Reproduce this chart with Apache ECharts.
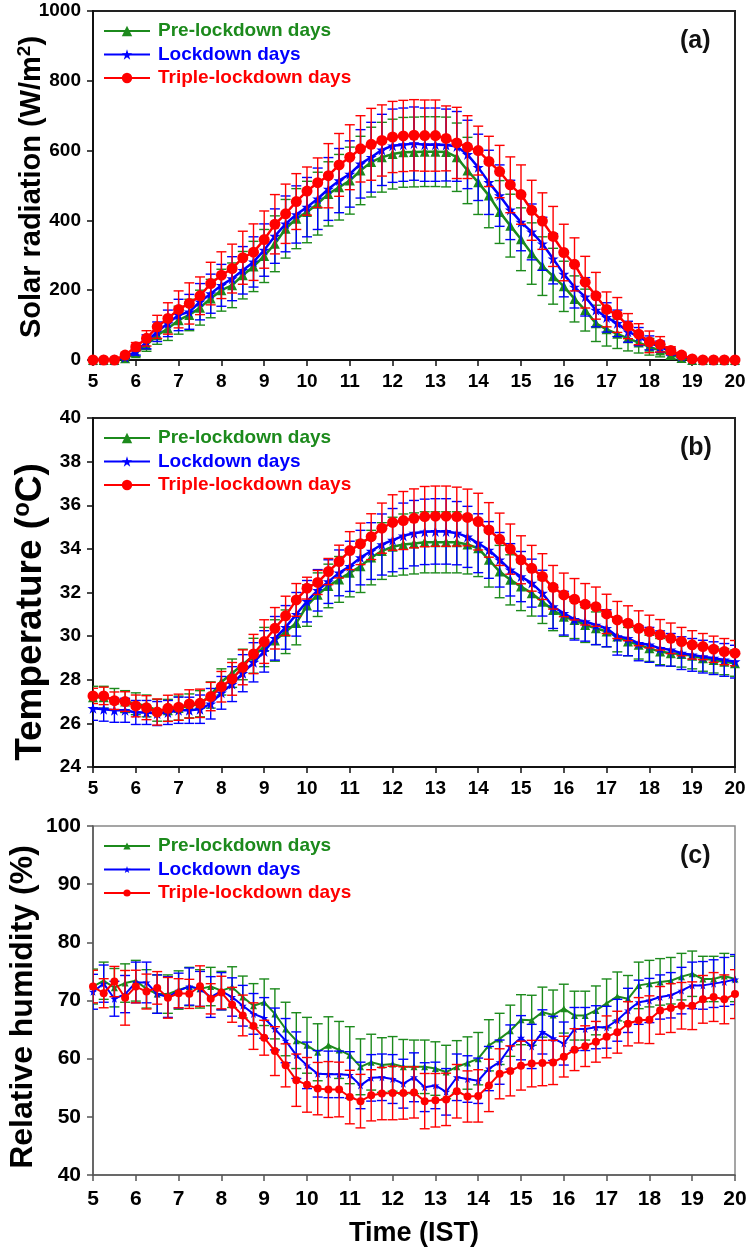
<!DOCTYPE html>
<html>
<head>
<meta charset="utf-8">
<script src="https://cdn.jsdelivr.net/npm/echarts@6.0.0/dist/echarts.min.js"></script>
<style>
  html, body { margin: 0; padding: 0; background: #fff; }
  #chart { width: 747px; height: 1252px; }
</style>
</head>
<body>
<div id="chart"></div>
<script>
// time of day (IST), 15-minute steps
const times = [
  5, 5.25, 5.5, 5.75, 6, 6.25, 6.5, 6.75, 7, 7.25, 7.5, 7.75,
  8, 8.25, 8.5, 8.75, 9, 9.25, 9.5, 9.75, 10, 10.25, 10.5, 10.75,
  11, 11.25, 11.5, 11.75, 12, 12.25, 12.5, 12.75, 13, 13.25, 13.5, 13.75,
  14, 14.25, 14.5, 14.75, 15, 15.25, 15.5, 15.75, 16, 16.25, 16.5, 16.75,
  17, 17.25, 17.5, 17.75, 18, 18.25, 18.5, 18.75, 19, 19.25, 19.5, 19.75, 20
];
const xTicks = [5, 6, 7, 8, 9, 10, 11, 12, 13, 14, 15, 16, 17, 18, 19, 20];
const names = ['Pre-lockdown days', 'Lockdown days', 'Triple-lockdown days'];

// (a) solar radiation, W/m2
const radPre = [0,0,0,5, 19,43,71,90, 114,129,150,176, 200,214,243,268, 298,333,376,405,
  424,448,476,495, 514,543,567,581, 590,595,596,597, 597,596,581,543, 509,471,424,385,
  346,305,269,240, 211,175,143,105, 88,75,62,50, 38,27,15,6, 0,0,0,0, 0];
const radPreSd = [0,0,0,3, 9,18,26,34, 40,45,50,55, 60,64,68,72, 76,80,84,86,
  88,90,92,94, 96,98,100,100, 100,100,100,100, 100,100,98,95, 92,92,90,90,
  90,88,84,80, 72,66,60,52, 48,42,36,30, 24,18,12,5, 0,0,0,0, 0];
const radLock = [0,0,0,8, 24,52,81,105, 129,138,167,190, 214,233,257,281, 315,355,390,417,
  438,462,490,514, 533,562,581,602, 614,617,620,617, 617,616,612,589, 552,509,471,430,
  395,367,333,290, 246,209,181,143, 122,105,81,67, 49,38,24,10, 3,0,0,0, 0];
const radLockSd = [0,0,0,4, 10,20,28,38, 45,50,52,56, 60,63,68,72, 75,78,80,82,
  85,88,90,92, 95,98,100,102, 105,105,105,105, 105,103,100,98, 95,92,88,85,
  82,80,76,72, 65,60,55,48, 42,38,30,26, 20,16,10,5, 2,0,0,0, 0];
const radTriple = [0,0,0,14, 38,62,95,119, 145,162,184,219, 243,262,293,309, 345,389,419,454,
  484,508,528,559, 581,605,618,629, 639,642,644,643, 643,635,622,610, 600,569,540,502,
  474,429,398,354, 308,274,223,184, 145,129,97,74, 52,45,27,14, 3,0,0,0, 0];
const radTripleSd = [0,0,0,5, 12,22,33,45, 53,59,54,61, 67,70,76,81, 82,85,85,80,
  69,71,92,90, 93,95,103,102, 102,102,102,102, 102,93,102,90, 70,72,75,80,
  85,86,81,86, 81,76,74,67, 50,50,36,30, 31,22,11,6, 2,0,0,0, 0];

// (b) temperature, deg C
const tempPre = [27.2,27.2,27.1,27.0, 26.9,26.8,26.6,26.6, 26.7,26.8,26.9,27.3,
  27.9,28.3,28.7,29.1, 29.5,29.8,30.2,30.6, 31.4,31.9,32.3,32.6, 32.9,33.2,33.6,33.9,
  34.1,34.2,34.25,34.3, 34.3,34.3,34.3,34.2, 34.03,33.5,32.96,32.58, 32.27,31.97,31.58,31.2,
  30.89,30.74,30.51,30.36, 30.21,29.98,29.75,29.6, 29.44,29.29,29.22,29.18, 29.1,28.99,28.91,28.83, 28.76];
const tempPreSd = [0.5,0.5,0.5,0.5, 0.5,0.5,0.5,0.5, 0.55,0.55,0.6,0.6, 0.6,0.65,0.7,0.8,
  0.9,0.95,1.0,1.0, 0.95,1.0,1.0,1.05, 1.1,1.2,1.25,1.3, 1.35,1.4,1.4,1.4, 1.4,1.4,1.4,1.35,
  1.3,1.25,1.2,1.15, 1.1,1.05,1.0,0.95, 0.9,0.85,0.8,0.75, 0.7,0.7,0.65,0.65,
  0.6,0.6,0.6,0.6, 0.6,0.6,0.6,0.6, 0.6];
const tempLock = [26.69,26.65,26.6,26.6, 26.5,26.5,26.45,26.5, 26.6,26.6,26.65,26.9,
  27.4,27.8,28.3,28.8, 29.3,29.9,30.4,31.0, 31.6,32.1,32.5,32.9, 33.2,33.6,33.9,34.2,
  34.4,34.6,34.72,34.78, 34.8,34.8,34.72,34.55, 34.26,33.95,33.5,33.04, 32.73,32.43,31.97,31.35,
  31.05,30.77,30.67,30.51, 30.36,29.98,29.9,29.67, 29.6,29.44,29.37,29.22, 29.14,29.06,28.99,28.91, 28.83];
const tempLockSd = [0.55,0.55,0.55,0.55, 0.55,0.55,0.55,0.55, 0.6,0.6,0.65,0.7, 0.75,0.8,0.85,0.9,
  0.95,1.0,1.0,1.0, 0.95,0.95,1.0,1.05, 1.15,1.25,1.3,1.4, 1.45,1.5,1.5,1.5, 1.5,1.5,1.45,1.4,
  1.35,1.3,1.25,1.2, 1.15,1.1,1.05,1.0, 1.0,0.95,0.9,0.9, 0.85,0.85,0.8,0.8,
  0.8,0.8,0.75,0.75, 0.75,0.75,0.75,0.75, 0.75];
const tempTriple = [27.26,27.26,27.04,27.0, 26.8,26.72,26.52,26.69, 26.74,26.89,26.92,27.23,
  27.68,28.04,28.57,29.18, 29.75,30.36,30.93,31.66, 32.2,32.46,32.96,33.42, 33.92,34.23,34.56,34.95,
  35.21,35.3,35.4,35.48, 35.5,35.5,35.48,35.44, 35.25,34.87,34.44,33.99, 33.5,33.11,32.73,32.24,
  31.89,31.69,31.46,31.35, 31.02,30.74,30.59,30.36, 30.21,30.06,29.9,29.75, 29.6,29.52,29.4,29.29, 29.22];
const tempTripleSd = [0.35,0.4,0.4,0.45, 0.5,0.55,0.6,0.6, 0.6,0.65,0.65,0.65, 0.7,0.75,0.8,0.9,
  1.0,0.95,0.9,0.75, 0.5,0.55,0.6,0.75, 0.87,0.95,1.05,1.15, 1.27,1.33,1.35,1.38, 1.38,1.38,1.35,1.3,
  1.3,1.25,1.2,1.15, 1.1,1.05,1.05,1.0, 1.0,0.95,0.95,0.9, 0.9,0.85,0.8,0.8,
  0.75,0.7,0.7,0.65, 0.65,0.6,0.6,0.6, 0.58];

// (c) relative humidity, %
const rhPre = [72.4,73.4,72.2,73.0, 73.4,72.0,71.1,71.1, 71.8,72.4,72.0,72.4, 71.7,72.3,70.6,69.1,
  69.7,67.7,65.1,63.1, 62.3,61.1,62.3,61.5, 60.6,58.6,59.4,58.9, 59.1,58.6,58.6,58.6,
  58.3,57.7,58.6,59.25, 60.0,62.3,63.4,64.8, 66.7,66.6,68.0,67.5, 68.6,67.4,67.4,68.3,
  69.5,70.7,70.3,72.6, 72.9,73.2,73.4,74.1, 74.6,73.7,73.7,74.2, 73.7];
const rhPreSd = [3.0,3.2,3.3,3.3, 3.5,3.3,3.3,3.3, 3.3,3.3,3.3,3.3, 3.3,3.5,3.6,3.8,
  4.0,4.3,4.6,4.8, 4.8,4.9,4.9,4.9, 4.9,4.8,4.8,4.7, 4.7,4.7,4.6,4.6, 4.6,4.6,4.5,4.5,
  4.5,4.4,4.4,4.4, 4.3,4.3,4.3,4.3, 4.2,4.2,4.2,4.2, 4.2,4.2,4.0,4.0,
  4.0,4.0,4.0,4.0, 3.9,3.9,3.9,3.9, 3.9];
const rhLock = [71.5,72.9,70.3,71.1, 73.1,73.1,71.1,70.6, 71.7,72.4,72.0,70.6, 71.6,70.6,69.1,67.7,
  67.0,65.1,63.1,60.6, 58.85,57.4,57.3,57.3, 57.2,55.4,56.7,56.8, 56.5,55.7,56.8,55.1,
  55.4,54.3,56.8,56.5, 56.2,58.3,59.4,62.0, 63.6,62.1,64.6,63.5, 62.6,65.1,65.1,65.4,
  65.4,66.6,68.3,69.7, 70.0,70.6,70.9,71.7, 72.6,72.6,72.9,73.2, 73.6];
const rhLockSd = [3.0,3.2,3.0,3.2, 3.5,3.5,3.3,3.5, 3.0,3.2,3.0,3.5, 3.2,3.3,3.5,3.5,
  3.5,3.6,3.8,4.0, 4.0,4.0,4.0,4.0, 4.0,4.0,4.0,4.0, 4.2,4.2,4.2,4.2, 4.0,4.0,4.0,4.0,
  3.9,3.8,3.8,3.8, 3.8,3.8,3.8,3.8, 3.7,3.7,3.7,3.7, 3.6,3.6,3.8,3.8,
  3.8,3.8,3.9,4.0, 4.0,4.1,4.1,4.2, 4.3];
const rhTriple = [72.4,71.25,73.26,70.46, 72.4,71.54,72.17,70.46, 71.25,71.14,72.46,70.29,
  71.37,69.26,67.43,65.6, 63.6,61.3,58.85,56.3, 55.5,54.85,54.7,54.7, 53.4,52.7,53.7,54.0,
  54.1,54.1,54.2,52.7, 52.85,53.0,54.4,53.5, 53.6,55.4,57.4,57.9, 58.8,59.15,59.25,59.35,
  60.35,61.55,62.15,62.9, 63.75,64.55,66.0,66.6, 66.7,68.3,68.7,69.1, 69.1,70.2,70.6,70.2, 71.1];
const rhTripleSd = [2.8,2.5,2.6,4.7, 2.8,3.0,2.8,3.5, 2.5,2.5,3.5,2.6, 2.8,3.0,3.5,4.0,
  3.0,4.2,3.7,4.5, 4.7,4.5,4.8,4.7, 4.6,4.6,4.4,4.5, 4.6,4.5,4.4,4.75, 4.6,4.5,4.6,4.4,
  4.5,4.5,4.3,4.3, 4.2,4.0,3.9,3.8, 3.5,3.6,3.5,3.5, 3.6,3.6,3.8,3.9,
  4.1,4.1,4.2,4.0, 4.1,4.1,4.2,4.2, 4.2];

const GREEN = '#1c8a1c', BLUE = '#0000ff', RED = '#ff0000';
const STAR = 'path://M50,0L61.8,35.1L98.9,35.1L69,57.3L80.3,92.6L50,71L19.7,92.6L31,57.3L1.1,35.1L38.2,35.1Z';
const FONT = "'Liberation Sans', Arial, sans-serif";
const NARROW = "'Liberation Sans Narrow', 'Arial Narrow', 'Liberation Sans', sans-serif";

function pairs(vals) { return times.map((t, i) => [t, vals[i]]); }
function bars(vals, sd) { return times.map((t, i) => [t, vals[i] - sd[i], vals[i] + sd[i]]); }

function errorSeries(idx, vals, sd, color, capW, z) {
  return {
    type: 'custom', xAxisIndex: idx, yAxisIndex: idx, silent: true, clip: true, z: z,
    data: bars(vals, sd), encode: { x: 0, y: [1, 2] },
    renderItem: function (params, api) {
      const top = api.coord([api.value(0), api.value(2)]);
      const bot = api.coord([api.value(0), api.value(1)]);
      const h = capW / 2;
      const style = { stroke: color, lineWidth: 1.4 };
      return { type: 'group', children: [
        { type: 'line', shape: { x1: top[0], y1: top[1], x2: bot[0], y2: bot[1] }, style: style },
        { type: 'line', shape: { x1: top[0] - h, y1: top[1], x2: top[0] + h, y2: top[1] }, style: style },
        { type: 'line', shape: { x1: bot[0] - h, y1: bot[1], x2: bot[0] + h, y2: bot[1] }, style: style }
      ] };
    }
  };
}

function lineSeries(idx, name, vals, color, symbol, size, width, z) {
  return {
    type: 'line', name: name, xAxisIndex: idx, yAxisIndex: idx, z: z,
    data: pairs(vals), symbol: symbol, symbolSize: size, showAllSymbol: true,
    lineStyle: { color: color, width: width }, itemStyle: { color: color },
    emphasis: { disabled: true }
  };
}

// vertical axis titles, drawn as rotated text
function axisTitle(text, cx, cy, size) {
  return {
    type: 'text', x: cx, y: cy, rotation: Math.PI / 2, silent: true,
    style: {
      text: text, fill: '#000', fontFamily: FONT, fontWeight: 'bold', fontSize: size,
      lineHeight: size + 4, align: 'center', verticalAlign: 'middle',
      rich: { sup: { fill: '#000', fontFamily: FONT, fontWeight: 'bold', fontSize: Math.round(size * 0.64),
        lineHeight: size + 4, verticalAlign: 'top', padding: [0, 0, Math.round(size * 0.42), 0] } }
    }
  };
}

const panels = [
  { key: 'a', top: 11, min: 0, max: 1000, step: 200, sets: [[radPre, radPreSd], [radLock, radLockSd], [radTriple, radTripleSd]],
    title: 'Solar radiation (W/m{sup|2})', size: 29, tx: 32, ty: 187, big: [10, 11, 11], lw: 2.5, c: false },
  { key: 'b', top: 418, min: 24, max: 40, step: 2, sets: [[tempPre, tempPreSd], [tempLock, tempLockSd], [tempTriple, tempTripleSd]],
    title: 'Temperature ({sup|o}C)', size: 37, tx: 31, ty: 612, big: [10, 11, 11], lw: 2.5, c: false },
  { key: 'c', top: 826, min: 40, max: 100, step: 10, sets: [[rhPre, rhPreSd], [rhLock, rhLockSd], [rhTriple, rhTripleSd]],
    title: 'Relative humidity (%)', size: 32, tx: 23, ty: 1007, big: [7, 8, 8], lw: 2, c: true }
];
const colors = [GREEN, BLUE, RED];
const symbols = ['triangle', STAR, 'circle'];

const grid = [], xAxis = [], yAxis = [], series = [], legend = [], graphic = [];
panels.forEach(function (p, idx) {
  const axisCol = p.c ? '#555' : '#111';
  const tickFont = p.c ? NARROW : FONT;
  const tickSize = p.c ? 21 : 19;
  grid.push({ left: 93, width: 642, top: p.top, height: 349, show: true, outerBoundsMode: 'none', containLabel: false,
    borderColor: p.c ? '#888' : '#222', borderWidth: p.c ? 1.5 : 2, backgroundColor: 'transparent' });
  xAxis.push({
    type: 'value', gridIndex: idx, min: 5, max: 20, interval: 1,
    splitLine: { show: false },
    axisLine: { lineStyle: { color: axisCol, width: p.c ? 1.5 : 2 } },
    axisTick: { length: 6, lineStyle: { color: axisCol, width: 1.5 } },
    axisLabel: { color: '#000', fontFamily: tickFont, fontWeight: 'bold', fontSize: tickSize, margin: p.c ? 14 : 12,
      formatter: function (v) { return xTicks.indexOf(v) >= 0 ? String(v) : ''; } },
    name: p.c ? 'Time (IST)' : '', nameLocation: 'middle', nameGap: 45,
    nameTextStyle: { color: '#000', fontFamily: NARROW, fontWeight: 'bold', fontSize: 27 }
  });
  yAxis.push({
    type: 'value', gridIndex: idx, min: p.min, max: p.max, interval: p.step,
    splitLine: { show: false },
    axisLine: { show: true, lineStyle: { color: axisCol, width: p.c ? 1.5 : 2 } },
    axisTick: { show: true, length: 6, lineStyle: { color: axisCol, width: 1.5 } },
    axisLabel: { color: '#000', fontFamily: tickFont, fontWeight: 'bold', fontSize: tickSize, margin: 12,
      formatter: function (v) { return String(v); } }
  });
  p.sets.forEach(function (s, k) {
    series.push(errorSeries(idx, s[0], s[1], colors[k], 10, 2 + k * 2));
    series.push(lineSeries(idx, names[k] + '|' + p.key, s[0], colors[k], symbols[k], p.big[k], p.lw, 3 + k * 2));
  });
  legend.push({
    orient: 'vertical', left: 98, top: p.top + 4, itemWidth: 46, itemHeight: p.c ? 9 : 13, itemGap: 1.5,
    selectedMode: false,
    formatter: function (n) { return n.split('|')[0]; },
    textStyle: { fontFamily: FONT, fontWeight: 'bold', fontSize: 19, lineHeight: 22, padding: [0, 0, 0, 3] },
    data: names.map(function (n, k) { return { name: n + '|' + p.key, textStyle: { color: colors[k] } }; })
  });
  graphic.push(axisTitle(p.title, p.tx, p.ty, p.size));
  graphic.push({ type: 'text', left: 680, top: p.top + 18, silent: true,
    style: { text: '(' + p.key + ')', font: 'bold 25px ' + FONT, fill: '#111' } });
});

const chart = echarts.init(document.getElementById('chart'));
chart.setOption({
  animation: false,
  backgroundColor: '#fff',
  grid: grid, xAxis: xAxis, yAxis: yAxis, legend: legend, graphic: graphic, series: series
});
</script>
</body>
</html>
